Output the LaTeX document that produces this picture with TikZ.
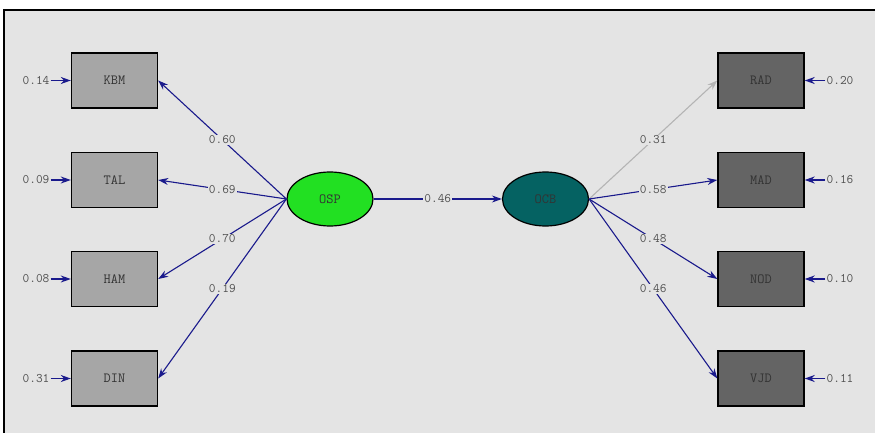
\documentclass[tikz,border=0pt]{standalone}
\usetikzlibrary{arrows.meta,shapes.geometric}
\definecolor{bg}{HTML}{E4E4E4}
\definecolor{navy}{HTML}{1A1A8C}
\definecolor{lightbox}{HTML}{A6A6A6}
\definecolor{darkbox}{HTML}{646464}
\definecolor{ospgreen}{HTML}{22E022}
\definecolor{ocbteal}{HTML}{056262}
\definecolor{txt}{HTML}{505050}
\definecolor{rad}{HTML}{B4B4B4}
\tikzset{
  obsL/.style={draw=black, line width=1.4pt, fill=lightbox, minimum width=86pt, minimum height=55pt, inner sep=0pt, font=\ttfamily\fontsize{14}{14}\selectfont, text=black!80},
  obsR/.style={obsL, fill=darkbox},
  lat/.style={ellipse, draw=black, line width=1.2pt, minimum width=86pt, minimum height=54pt, inner sep=0pt, font=\ttfamily\fontsize{14}{14}\selectfont, text=black!80},
  lab/.style={fill=bg, inner sep=1pt, font=\ttfamily\fontsize{13}{13}\selectfont, text=txt},
  errlab/.style={inner sep=1pt, font=\ttfamily\fontsize{13}{13}\selectfont, text=txt},
  conn/.style={draw=navy, line width=1.1pt, -{Stealth[length=10pt,width=7pt]}},
}
\begin{document}
\begin{tikzpicture}[x=1pt,y=-1pt]
\useasboundingbox (0,0) rectangle (875,433);
\fill[white] (0,0) rectangle (875,433);
\fill[bg] (4,10) rectangle (875,433);
\draw[black, line width=2pt] (4,433) -- (4,10) -- (875,10);

% observed left
\node[obsL] (KBM) at (114.5,80.5) {KBM};
\node[obsL] (TAL) at (114.5,180) {TAL};
\node[obsL] (HAM) at (114.5,279) {HAM};
\node[obsL] (DIN) at (114.5,378.5) {DIN};
% observed right
\node[obsR] (RAD) at (761,80.5) {RAD};
\node[obsR] (MAD) at (761,180) {MAD};
\node[obsR] (NOD) at (761,279) {NOD};
\node[obsR] (VJD) at (761,378.5) {VJD};
% latent
\node[lat, fill=ospgreen] (OSP) at (330,199) {OSP};
\node[lat, fill=ocbteal] (OCB) at (545.5,199) {OCB};

% error terms left
\node[errlab] (eKBM) at (36,80.5) {0.14};
\node[errlab] (eTAL) at (36,180) {0.09};
\node[errlab] (eHAM) at (36,279) {0.08};
\node[errlab] (eDIN) at (36,378.5) {0.31};
\foreach \n in {KBM,TAL,HAM,DIN} \draw[conn] (e\n) -- (\n.west);
% error terms right
\node[errlab] (eRAD) at (840,80.5) {0.20};
\node[errlab] (eMAD) at (840,180) {0.16};
\node[errlab] (eNOD) at (840,279) {0.10};
\node[errlab] (eVJD) at (840,378.5) {0.11};
\foreach \n in {RAD,MAD,NOD,VJD} \draw[conn] (e\n) -- (\n.east);

% loadings OSP
\draw[conn] (OSP.west) -- node[lab] {0.60} (KBM.east);
\draw[conn] (OSP.west) -- node[lab] {0.69} (TAL.east);
\draw[conn] (OSP.west) -- node[lab] {0.70} (HAM.east);
\draw[conn] (OSP.west) -- node[lab] {0.19} (DIN.east);
% structural path
\draw[conn] (OSP.east) -- node[lab] {0.46} (OCB.west);
% loadings OCB
\draw[conn, draw=rad] (OCB.east) -- node[lab] {0.31} (RAD.west);
\draw[conn] (OCB.east) -- node[lab] {0.58} (MAD.west);
\draw[conn] (OCB.east) -- node[lab] {0.48} (NOD.west);
\draw[conn] (OCB.east) -- node[lab] {0.46} (VJD.west);
\end{tikzpicture}
\end{document}
